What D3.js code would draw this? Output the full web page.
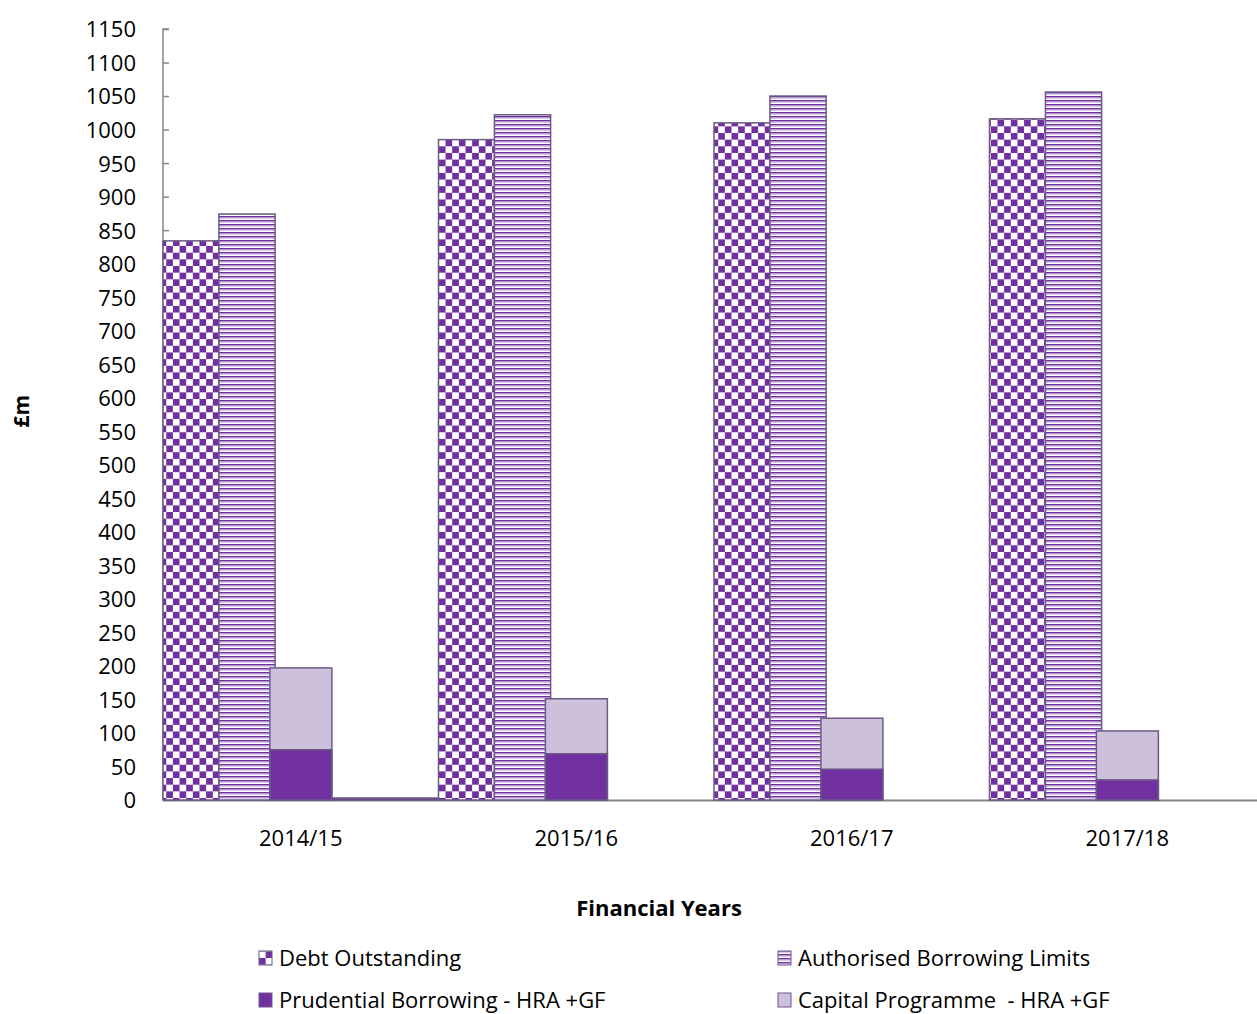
<!DOCTYPE html>
<html lang="en">
<head>
  <meta charset="UTF-8">
  <script src="https://d3js.org/d3.v7.min.js"></script>
  <title>Borrowing</title>
  <style>
    body { margin: 0; background: #fff; }
    text { font-family: "Open Sans", sans-serif; fill: #000; }
  </style>
</head>
<body>
<script>
  /*
    Data
  */
  const years = ["2014/15", "2015/16", "2016/17", "2017/18"]
  const debtOutstanding = [834, 985, 1010, 1016]
  const authorisedLimits = [874, 1022, 1050, 1056]
  const capitalProgramme = [197, 151, 122, 103]
  const prudentialBorrowing = [75, 69, 46, 30]
  const residual = [3, 0, 0, 0]
  const yTicks = d3.range(0, 1151, 50)

  const width = 1257
  const height = 1014
  const margin = { top: 29, left: 163, right: -8, bottom: 214 }

  const svg = d3.select("body").append("svg")
    .attr("width", width)
    .attr("height", height)

  // Patterns
  const defs = svg.append("defs")
  const checker = defs.append("pattern")
    .attr("id", "checker")
    .attr("patternUnits", "userSpaceOnUse")
    .attr("width", 13.3).attr("height", 13.3)
  checker.append("rect").attr("width", 13.3).attr("height", 13.3).attr("fill", "#fff")
  checker.append("rect").attr("width", 6.65).attr("height", 6.65).attr("fill", "#7030a0")
  checker.append("rect").attr("x", 6.65).attr("y", 6.65).attr("width", 6.65).attr("height", 6.65).attr("fill", "#7030a0")

  const stripes = defs.append("pattern")
    .attr("id", "stripes")
    .attr("patternUnits", "userSpaceOnUse")
    .attr("width", 8).attr("height", 4)
  stripes.append("rect").attr("width", 8).attr("height", 4).attr("fill", "#fff")
  stripes.append("rect").attr("width", 8).attr("height", 1.5).attr("fill", "#7030a0")
  stripes.append("rect").attr("y", 1.5).attr("width", 8).attr("height", 1).attr("fill", "#b894d6")

  // Scales
  const x = d3.scaleBand()
    .domain(years)
    .range([margin.left, width - margin.right])
    .paddingInner(0).paddingOuter(0)

  const y = d3.scaleLinear()
    .domain([0, 1150])
    .range([height - margin.bottom, margin.top])

  const bw = x.bandwidth()

  // Axes
  const yAxis = d3.axisLeft(y).tickValues(yTicks).tickSize(-6).tickPadding(27)
    .tickFormat(d3.format("d"))
  const gy = svg.append("g")
    .attr("transform", `translate(${margin.left},0)`)
    .call(yAxis)
  gy.select(".domain").attr("stroke", "#868686").attr("stroke-width", 1.5)
    .attr("d", `M-0,${y(1150)}H6H0V${y(0)}`)
  gy.selectAll(".tick line").attr("stroke", "#868686").attr("stroke-width", 1.5)
  gy.selectAll(".tick text").style("font-size", "22px").attr("dy", "0.36em")

  const xAxis = d3.axisBottom(x).tickSize(0).tickPadding(30)
  const gx = svg.append("g")
    .attr("transform", `translate(0,${y(0)})`)
    .call(xAxis)
  gx.select(".domain").attr("stroke", "#868686").attr("stroke-width", 2)
  gx.selectAll(".tick text").style("font-size", "22px")

  function drawBars(values, x0, x1, fill, stroke) {
    svg.append("g").selectAll("rect")
      .data(values)
      .enter().append("rect")
      .attr("x", (d, i) => x(years[i]) + bw * x0)
      .attr("width", bw * (x1 - x0))
      .attr("y", d => y(d))
      .attr("height", d => y(0) - y(d))
      .attr("fill", fill)
      .attr("stroke", stroke)
      .attr("stroke-width", 1.5)
  }

  drawBars(debtOutstanding, 0, 0.203, "url(#checker)", "#6b5b85")
  drawBars(authorisedLimits, 0.203, 0.407, "url(#stripes)", "#6b5b85")
  drawBars(capitalProgramme, 0.388, 0.613, "#ccc0da", "#6b5b85")
  drawBars(prudentialBorrowing, 0.388, 0.613, "#7030a0", "#6b5b85")
  drawBars(residual, 0.613, 1.0, "#7030a0", "#6b5b85")

  // Axis titles
  svg.append("text")
    .attr("transform", `translate(29,${y(580)}) rotate(-90)`)
    .attr("text-anchor", "middle")
    .style("font-size", "21px").style("font-weight", "bold")
    .text("£m")

  svg.append("text")
    .attr("x", 659).attr("y", 916)
    .attr("text-anchor", "middle")
    .style("font-size", "22px").style("font-weight", "bold")
    .text("Financial Years")

  // Legend
  const legendItems = [
    { label: "Debt Outstanding", fill: "url(#checker)", lx: 259, ly: 958 },
    { label: "Authorised Borrowing Limits", fill: "url(#stripes)", lx: 778, ly: 958 },
    { label: "Prudential Borrowing - HRA +GF", fill: "#7030a0", lx: 259, ly: 1000 },
    { label: "Capital Programme  - HRA +GF", fill: "#ccc0da", lx: 778, ly: 1000 }
  ]
  const lg = svg.append("g").selectAll("g")
    .data(legendItems)
    .enter().append("g")
    .attr("transform", d => `translate(${d.lx},${d.ly})`)
  lg.append("rect")
    .attr("x", 0).attr("y", -7).attr("width", 13).attr("height", 14)
    .attr("fill", d => d.fill)
    .attr("stroke", "#6b5b85").attr("stroke-width", 1)
  lg.append("text")
    .attr("x", 20).attr("dy", "0.36em")
    .style("font-size", "22px")
    .style("white-space", "pre")
    .text(d => d.label)
</script>
</body>
</html>
